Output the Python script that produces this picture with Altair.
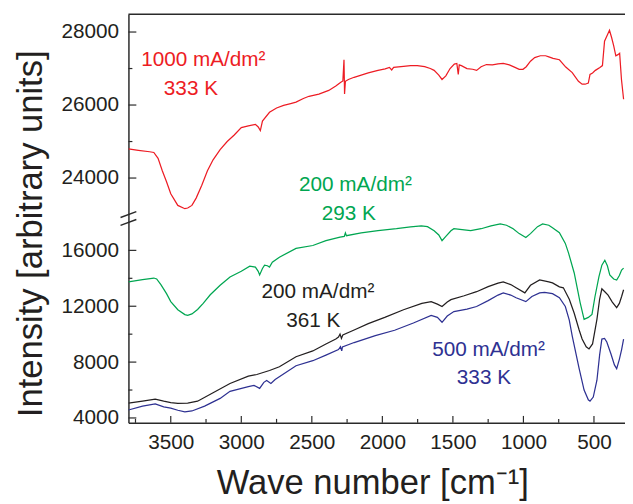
import altair as alt
import pandas as pd

# ---------------- data ----------------
RED_WN = [3800, 3730, 3650, 3620, 3590, 3560, 3530, 3500, 3450, 3400, 3380, 3350, 3320, 3280,
          3240, 3200, 3150, 3100, 3050, 3000, 2950, 2900, 2880, 2865, 2850, 2800, 2750, 2700,
          2650, 2612, 2560, 2520, 2450, 2380, 2330, 2297, 2280, 2272, 2268, 2262, 2241, 2200,
          2150, 2100, 2031, 1980, 1950, 1934, 1920, 1850, 1800, 1752, 1700, 1660, 1633, 1600,
          1577, 1550, 1520, 1490, 1472, 1462, 1455, 1440, 1400, 1360, 1332, 1300, 1262, 1220,
          1180, 1143, 1100, 1060, 1030, 1003, 980, 950, 920, 880, 843, 820, 790, 745, 700,
          654, 610, 584, 563, 540, 528, 510, 490, 458, 440, 425, 410, 390, 375, 360, 345,
          330, 318, 305, 290]
RED_VAL = [24800, 24760, 24720, 24700, 24540, 24200, 23900, 23570, 23250, 23160, 23180, 23250,
           23450, 23800, 24200, 24500, 24780, 25000, 25180, 25380, 25430, 25470, 25400, 25300,
           25560, 25800, 25920, 25990, 26040, 26080, 26180, 26240, 26300, 26400, 26520, 26620,
           26660, 27240, 26300, 26650, 26700, 26760, 26820, 26880, 26950, 26990, 27030, 26960,
           27030, 27060, 27080, 27080, 27050, 27000, 26950, 26820, 26700, 26800, 27000, 27120,
           27140, 26840, 27100, 27080, 27000, 26980, 26950, 27050, 27110, 27100, 27130, 27140,
           27100, 27030, 26980, 26980, 27050, 27200, 27300, 27350, 27350, 27320, 27280, 27240,
           27040, 26890, 26650, 26570, 26570, 26600, 26840, 26880, 26950, 27030, 27080, 27750,
           27880, 28050, 27850, 27620, 27350, 27380, 27420, 26700, 26160]

GREEN_WN = [3800, 3700, 3620, 3600, 3570, 3530, 3500, 3450, 3400, 3380, 3350, 3310, 3270, 3220,
            3150, 3080, 3000, 2940, 2900, 2880, 2870, 2850, 2835, 2815, 2800, 2780, 2730, 2612,
            2493, 2400, 2300, 2270, 2262, 2255, 2150, 2031, 1900, 1800, 1724, 1680, 1633, 1600,
            1577, 1550, 1514, 1493, 1450, 1374, 1300, 1230, 1164, 1120, 1073, 1030, 983, 950,
            900, 864, 820, 794, 745, 703, 680, 640, 598, 570, 540, 514, 493, 465, 444, 423,
            405, 388, 360, 339, 320, 304, 290]
GREEN_VAL = [13740, 13900, 14020, 13950, 13550, 12900, 12330, 11750, 11400, 11340, 11450, 11770,
             12200, 12820, 13500, 14090, 14500, 14870, 14800, 14500, 14240, 14700, 14940, 14900,
             14800, 15150, 15510, 16140, 16350, 16700, 16950, 17000, 17250, 17050, 17250, 17410,
             17550, 17680, 17760, 17700, 17410, 17100, 16700, 17000, 17400, 17550, 17500, 17410,
             17550, 17750, 17900, 17800, 17550, 17200, 16920, 17200, 17700, 17900, 17800, 17620,
             17270, 16500, 15800, 14380, 12260, 11060, 11200, 11410, 12680, 14100, 14940, 15290,
             14900, 14240, 13950, 13880, 14200, 14590, 14730]

BLACK_WN = [3800, 3700, 3610, 3550, 3500, 3450, 3380, 3310, 3200, 3080, 2950, 2890, 2800, 2730,
            2612, 2493, 2400, 2330, 2311, 2300, 2290, 2280, 2200, 2100, 1983, 1850, 1720, 1654,
            1610, 1577, 1540, 1514, 1420, 1332, 1250, 1180, 1143, 1090, 1052, 990, 950, 885,
            820, 794, 745, 717, 675, 640, 605, 584, 555, 535, 510, 479, 460, 444, 423, 400,
            370, 339, 320, 304, 290]
BLACK_VAL = [5060, 5200, 5340, 5200, 5100, 5050, 5060, 5200, 5800, 6470, 7000, 7110, 7400, 7670,
             8380, 8800, 9300, 9650, 9790, 10000, 9700, 9950, 10300, 10750, 11200, 11750, 12200,
             12330, 12150, 11980, 12300, 12470, 12750, 13040, 13400, 13650, 13740, 13550, 13320,
             12960, 13500, 13880, 13750, 13670, 13390, 13320, 12500, 11500, 10300, 9650, 9100,
             8940, 9300, 11060, 12500, 13250, 13040, 12800, 12300, 11900, 12200, 12700, 13180]

BLUE_WN = [3800, 3700, 3610, 3550, 3500, 3450, 3400, 3350, 3260, 3150, 3080, 2950, 2910, 2870,
           2840, 2820, 2790, 2760, 2612, 2493, 2400, 2311, 2297, 2288, 2283, 2200, 2050, 1913,
           1780, 1654, 1610, 1577, 1540, 1493, 1400, 1332, 1250, 1180, 1143, 1090, 1052, 983,
           940, 885, 850, 794, 745, 703, 675, 654, 605, 570, 540, 528, 505, 479, 460, 444, 425,
           409, 380, 355, 339, 320, 304, 290]
BLUE_VAL = [4570, 4850, 5000, 4800, 4710, 4550, 4430, 4500, 4850, 5400, 5910, 6250, 6330, 6120,
            6550, 6680, 6470, 6750, 7740, 8100, 8500, 8900, 9100, 8800, 9080, 9400, 9900, 10280,
            10800, 11340, 11200, 10850, 11300, 11620, 11800, 11980, 12400, 12800, 12960, 12800,
            12610, 12330, 12700, 12960, 13000, 12900, 12610, 11980, 11000, 9860, 7530, 6000, 5300,
            5200, 5500, 6700, 8500, 9650, 9700, 9440, 8600, 7800, 7530, 8200, 8900, 9650]

SERIES = ["1000 mA/dm² 333 K", "200 mA/dm² 293 K", "200 mA/dm² 361 K", "500 mA/dm² 333 K"]
COLORS = ["#ED1C24", "#00A651", "#231F20", "#2E3192"]

# annotation labels: text, wavenumber at left edge, value at baseline, series
LABELS = ["1000 mA/dm²", "333 K", "200 mA/dm²", "293 K",
          "200 mA/dm²", "361 K", "500 mA/dm²", "333 K"]
LABEL_WN = [3710, 3549, 2591, 2430, 2857, 2682, 1647, 1472]
LABEL_VAL = [27080, 26270, 23650, 22838, 12610, 10495, 8450, 6400]
LABEL_SER = [SERIES[0], SERIES[0], SERIES[1], SERIES[1],
             SERIES[2], SERIES[2], SERIES[3], SERIES[3]]

X_TICKS_MAJOR = [3500, 3000, 2500, 2000, 1500, 1000, 500]
X_TICKS_MINOR = [3750, 3250, 2750, 2250, 1750, 1250, 750]
Y_TICKS_MAJOR = [4000, 8000, 12000, 16000, 24000, 26000, 28000]
Y_TICKS_MINOR = [6000, 10000, 14000, 25000, 27000]

# ---------------- broken y axis: two linear segments ----------------
W = 503
H = 414
LO = (3650, 18000)      # lower segment, occupies 0..P_LO_TOP px from the bottom
HI = (23000, 28490)     # upper segment, occupies P_HI_BOT..H px from the bottom
P_LO_TOP = 203
P_HI_BOT = 211
K_LO = P_LO_TOP / (LO[1] - LO[0])
K_HI = (H - P_HI_BOT) / (HI[1] - HI[0])
P_SPLIT = (P_LO_TOP + P_HI_BOT) / 2

P_EXPR = (f"datum.val >= 20000 ? {P_HI_BOT} + (datum.val - {HI[0]}) * {K_HI}"
          f" : (datum.val - {LO[0]}) * {K_LO}")
LABEL_EXPR = (f"datum.value >= {P_SPLIT} ? format({HI[0]} + (datum.value - {P_HI_BOT}) / {K_HI}, 'd')"
              f" : format({LO[0]} + datum.value / {K_LO}, 'd')")


def to_p(v):
    return P_HI_BOT + (v - HI[0]) * K_HI if v >= 20000 else (v - LO[0]) * K_LO


FONT = "Liberation Sans"
AX = "#2a2a2a"
TXT = "#231F20"

x_scale = alt.Scale(domain=[3800, 280], nice=False, zero=False)
y_scale = alt.Scale(domain=[0, H], nice=False, zero=False)
color_scale = alt.Scale(domain=SERIES, range=COLORS)

lines = pd.concat([
    pd.DataFrame({"wn": RED_WN, "val": RED_VAL, "series": SERIES[0]}),
    pd.DataFrame({"wn": GREEN_WN, "val": GREEN_VAL, "series": SERIES[1]}),
    pd.DataFrame({"wn": BLACK_WN, "val": BLACK_VAL, "series": SERIES[2]}),
    pd.DataFrame({"wn": BLUE_WN, "val": BLUE_VAL, "series": SERIES[3]}),
])
labels = pd.DataFrame({"wn": LABEL_WN, "val": LABEL_VAL, "txt": LABELS, "series": LABEL_SER})

x_axis = alt.Axis(values=X_TICKS_MAJOR, ticks=False, labelFontSize=21,
                  labelFont=FONT, labelColor=TXT, labelPadding=9, grid=False,
                  domainColor=AX, domainWidth=1.5, format="d",
                  title="Wave number [cm⁻¹]", titleFont=FONT, titleFontSize=35,
                  titleFontWeight="normal", titleColor=TXT, titleBaseline="alphabetic",
                  titleX=247, titleY=72)
y_axis = alt.Axis(values=[to_p(v) for v in Y_TICKS_MAJOR], labelExpr=LABEL_EXPR,
                  ticks=False, labelFontSize=21, labelFont=FONT, labelColor=TXT,
                  labelPadding=10, grid=False, domainColor=AX, domainWidth=1.5,
                  title="Intensity [arbitrary units]", titleFont=FONT, titleFontSize=35,
                  titleFontWeight="normal", titleColor=TXT, titleBaseline="alphabetic",
                  titleAngle=270, titleX=-88, titleY=222)

# the axes are defined on this layer only; the other layers share its scales
line_layer = alt.Chart(lines).transform_calculate(p=P_EXPR).mark_line(
    strokeWidth=1.25, clip=True).encode(
    x=alt.X("wn:Q", scale=x_scale, axis=x_axis),
    y=alt.Y("p:Q", scale=y_scale, axis=y_axis),
    color=alt.Color("series:N", scale=color_scale, legend=None),
    detail="series:N",
)

text_layer = alt.Chart(labels).transform_calculate(p=P_EXPR).mark_text(
    align="left", baseline="alphabetic", fontSize=21, font=FONT).encode(
    x=alt.X("wn:Q", scale=x_scale),
    y=alt.Y("p:Q", scale=y_scale),
    text="txt:N",
    color=alt.Color("series:N", scale=color_scale, legend=None),
)


def ytick_layer(values, length):
    return alt.Chart(pd.DataFrame({"val": values})).transform_calculate(p=P_EXPR).mark_rule(
        color=AX, strokeWidth=1.2).encode(
        y=alt.Y("p:Q", scale=y_scale),
        x=alt.value(0), x2=alt.value(length),
    )


def xtick_layer(values, length):
    return alt.Chart(pd.DataFrame({"wn": values})).mark_rule(color=AX, strokeWidth=1.2).encode(
        x=alt.X("wn:Q", scale=x_scale),
        y=alt.value(H), y2=alt.value(H - length),
    )


def deco(x1, y1, x2, y2, width=1.4):
    return alt.Chart(pd.DataFrame({"k": [0]})).mark_rule(color=AX, strokeWidth=width).encode(
        x=alt.value(x1), y=alt.value(y1), x2=alt.value(x2), y2=alt.value(y2))


s1 = H - P_HI_BOT   # pixel y (from top) of the upper segment's bottom
s2 = H - P_LO_TOP   # pixel y (from top) of the lower segment's top

chart = alt.layer(
    line_layer,
    text_layer,
    ytick_layer(Y_TICKS_MAJOR, 8),
    ytick_layer(Y_TICKS_MINOR, 4),
    xtick_layer(X_TICKS_MAJOR, 7),
    xtick_layer(X_TICKS_MINOR, 4),
    deco(0, 0, W, 0, 1.5),
    deco(-8, s1 + 3, 8, s1 - 3),
    deco(-8, s2 + 3, 8, s2 - 3),
).properties(
    width=W, height=H,
    autosize=alt.AutoSizeParams(type="none"),
    padding={"left": 122, "top": 3, "right": 0, "bottom": 80},
).configure_view(stroke=None)

chart.save("out.html", embed_options={"renderer": "svg", "actions": False})
